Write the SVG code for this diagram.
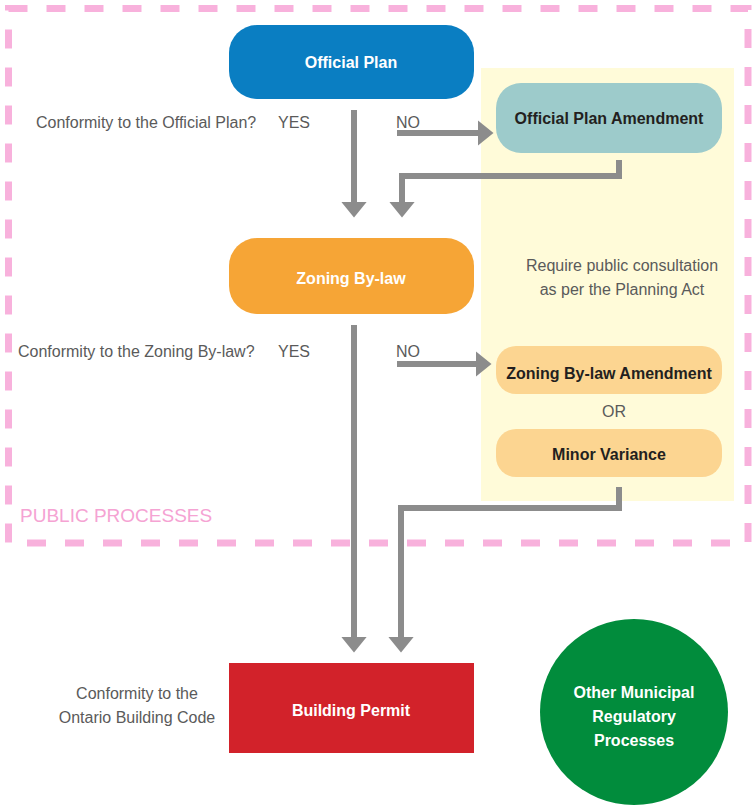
<svg xmlns="http://www.w3.org/2000/svg" width="754" height="806" viewBox="0 0 754 806">
<defs>
<style>
.lbl{font-family:"Liberation Sans",Arial,sans-serif;font-size:16px;fill:#5a5a5a}
.nw{font-family:"Liberation Sans",Arial,sans-serif;font-size:16px;font-weight:bold;fill:#ffffff;text-anchor:middle}
.nd{font-family:"Liberation Sans",Arial,sans-serif;font-size:16px;font-weight:bold;fill:#231f20;text-anchor:middle}
.conn{fill:none;stroke:#8c8c8c;stroke-width:6;marker-end:url(#ah)}
</style>
<marker id="ah" markerUnits="userSpaceOnUse" markerWidth="16" markerHeight="26" viewBox="0 0 16 26" refX="0.5" refY="13" orient="auto">
<path d="M0,0 L16,13 L0,26 Z" fill="#8c8c8c"/>
</marker>
</defs>
<rect width="754" height="806" fill="#ffffff"/>
<rect id="consult-panel" x="481" y="68" width="253" height="433" fill="#fffbd9"/>
<g id="connectors">
<path class="conn" d="M354,110 V202"/>
<path class="conn" d="M397,133 H478"/>
<path class="conn" d="M619,160 V176 H402 V202"/>
<path class="conn" d="M354,325 V637"/>
<path class="conn" d="M397,364 H476"/>
<path class="conn" d="M619,487 V508 H401 V637"/>
</g>
<g id="public-processes">
<rect x="8.5" y="8.5" width="739.5" height="534.5" fill="none" stroke="#f7a8d8" stroke-width="7" stroke-dasharray="19 19" opacity="0.9"/>
<text x="20" y="522" style="font-family:'Liberation Sans',Arial,sans-serif;font-size:19px;fill:#f5a3d3">PUBLIC PROCESSES</text>
</g>
<g id="official-plan">
<rect x="229" y="25" width="245" height="74" rx="28" fill="#0a7ec2"/>
<text class="nw" x="351" y="68">Official Plan</text>
</g>
<g id="official-plan-amendment">
<rect x="496" y="83" width="226" height="70" rx="25" fill="#9dcbcb"/>
<text class="nd" x="609" y="124">Official Plan Amendment</text>
</g>
<g id="q1">
<text class="lbl" x="36" y="128">Conformity to the Official Plan?</text>
<text class="lbl" x="278" y="128">YES</text>
<text class="lbl" x="396" y="128">NO</text>
</g>
<g id="zoning-bylaw">
<rect x="229" y="238" width="245" height="76" rx="28" fill="#f6a536"/>
<text class="nw" x="351" y="284">Zoning By-law</text>
</g>
<g id="consult-note">
<text class="lbl" x="622" y="271" text-anchor="middle">Require public consultation</text>
<text class="lbl" x="622" y="295" text-anchor="middle">as per the Planning Act</text>
</g>
<g id="q2">
<text class="lbl" x="18" y="357">Conformity to the Zoning By-law?</text>
<text class="lbl" x="278" y="357">YES</text>
<text class="lbl" x="396" y="357">NO</text>
</g>
<g id="zoning-amendment">
<rect x="496" y="346" width="226" height="48" rx="20" fill="#fcd591"/>
<text class="nd" x="609" y="379">Zoning By-law Amendment</text>
</g>
<text class="lbl" x="614" y="417" text-anchor="middle">OR</text>
<g id="minor-variance">
<rect x="496" y="429" width="226" height="48" rx="20" fill="#fcd591"/>
<text class="nd" x="609" y="460">Minor Variance</text>
</g>
<g id="building-permit">
<rect x="229" y="663" width="245" height="90" fill="#d2222a"/>
<text class="nw" x="351" y="716">Building Permit</text>
</g>
<g id="q3">
<text class="lbl" x="137" y="699" text-anchor="middle">Conformity to the</text>
<text class="lbl" x="137" y="723" text-anchor="middle">Ontario Building Code</text>
</g>
<g id="other-municipal">
<ellipse cx="634" cy="712" rx="94" ry="93" fill="#018c3c"/>
<text class="nw" x="634" y="698">Other Municipal</text>
<text class="nw" x="634" y="722">Regulatory</text>
<text class="nw" x="634" y="746">Processes</text>
</g>
</svg>
